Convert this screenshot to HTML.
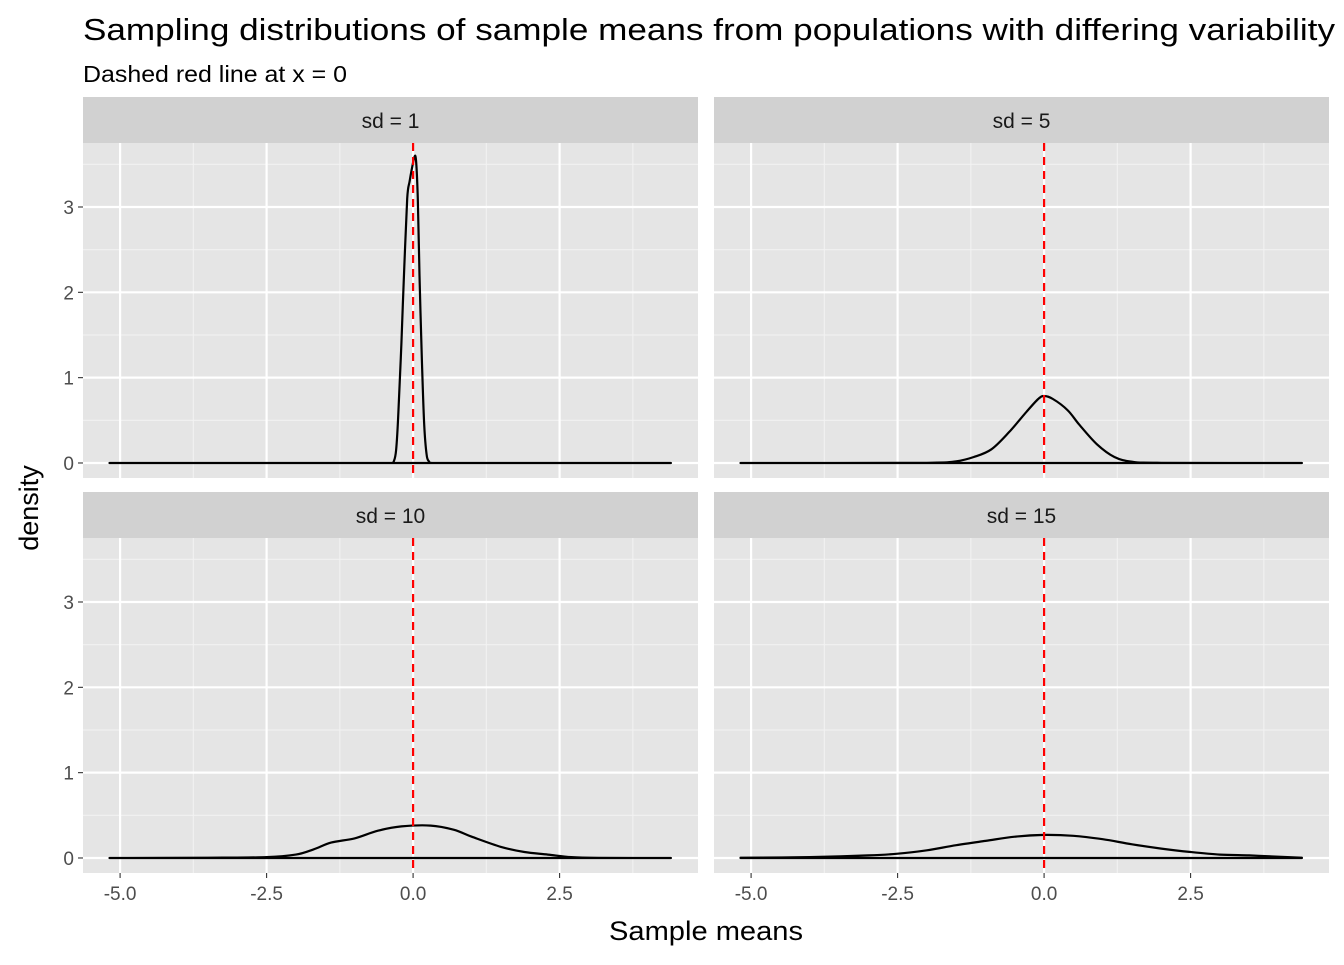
<!DOCTYPE html>
<html><head><meta charset="utf-8"><style>
body{margin:0;background:#fff;font-family:"Liberation Sans",Arial,sans-serif}
svg text{font-family:"Liberation Sans",Arial,sans-serif}
</style></head><body>
<svg id="chart" width="1344" height="960" xmlns="http://www.w3.org/2000/svg">
<rect width="1344" height="960" fill="#fff"/>
<text x="83" y="40" font-size="31" textLength="1252" lengthAdjust="spacingAndGlyphs" fill="#000">Sampling distributions of sample means from populations with differing variability</text>
<text x="83" y="82" font-size="23" textLength="264" lengthAdjust="spacingAndGlyphs" fill="#000">Dashed red line at x = 0</text>
<text x="706" y="940" font-size="27" textLength="194" lengthAdjust="spacingAndGlyphs" text-anchor="middle">Sample means</text>
<text transform="translate(38,508) rotate(-90)" font-size="27" text-anchor="middle">density</text>
<g id="panels"></g>
</svg>
<script>
const panelLabels = ["sd = 1","sd = 5","sd = 10","sd = 15"];
const xTicks = [-5.0,-2.5,0.0,2.5];
const xTickLabels = ["-5.0","-2.5","0.0","2.5"];
const yTicks = [0,1,2,3];
const yTickLabels = ["0","1","2","3"];
const refLineX = 0;
const x1 = [-5.18,-0.38,-0.33,-0.29,-0.25,-0.2,-0.15,-0.1,-0.06,-0.02,0.02,0.05,0.08,0.11,0.15,0.19,0.23,0.27,0.32,4.4];
const d1 = [0,0,0.02,0.15,0.6,1.4,2.3,3.1,3.3,3.45,3.58,3.55,3.1,2.2,1.2,0.45,0.1,0.02,0,0];
const x2 = [-5.18,-2,-1.5,-1.2,-0.9,-0.6,-0.3,-0.1,0,0.15,0.4,0.6,0.9,1.2,1.5,2,4.4];
const d2 = [0,0.002,0.02,0.07,0.16,0.36,0.6,0.75,0.785,0.75,0.62,0.45,0.22,0.07,0.015,0.002,0];
const x3 = [-5.18,-3.5,-2.5,-2,-1.7,-1.4,-1,-0.6,-0.2,0.3,0.7,1,1.5,1.9,2.3,2.7,3.2,4.4];
const d3 = [0,0.003,0.01,0.04,0.1,0.18,0.23,0.32,0.37,0.38,0.33,0.25,0.13,0.07,0.04,0.01,0.002,0];
const x4 = [-5.18,-4,-3,-2.5,-2,-1.5,-1,-0.5,0,0.5,1,1.5,2,2.5,3,3.5,4,4.4];
const d4 = [0.003,0.01,0.03,0.05,0.09,0.15,0.2,0.25,0.27,0.26,0.22,0.16,0.11,0.07,0.04,0.03,0.015,0.003];
const seriesX=[x1,x2,x3,x4], seriesD=[d1,d2,d3,d4];

const NS="http://www.w3.org/2000/svg";
const g=document.getElementById('panels');
function mk(t,a,p){const e=document.createElementNS(NS,t);for(const k in a)e.setAttribute(k,a[k]);(p||g).appendChild(e);return e;}
const pw=615, ph=335, xmin=-5.633, xmax=4.862, ymin=-0.176, ymax=3.75;
const lefts=[83,714], tops=[143,538];
for(let i=0;i<4;i++){
  const L=lefts[i%2], T=tops[Math.floor(i/2)];
  const sx=v=>L+(v-xmin)/(xmax-xmin)*pw;
  const sy=v=>T+ph-(v-ymin)/(ymax-ymin)*ph;
  const pg=mk('g',{});
  
  
  const strip=mk('rect',{x:L,y:T-46,width:pw,height:46,fill:'#d1d1d1'},pg);
  
  
  const st=mk('text',{x:L+pw/2,y:T-15,'font-size':21,'text-anchor':'middle',fill:'#1a1a1a'},pg);
  st.textContent=panelLabels[i];
  
  
  const bg=mk('rect',{x:L,y:T,width:pw,height:ph,fill:'#e5e5e5'},pg);
  
  
  for(let k=0;k<xTicks.length;k++){
    const m=xTicks[k]+1.25;
    if(m>xmin&&m<xmax) mk('line',{x1:sx(m),x2:sx(m),y1:T,y2:T+ph,stroke:'#f2f2f2','stroke-width':1.1},pg);
  }
  for(let k=0;k<yTicks.length;k++){
    const m=yTicks[k]+0.5;
    if(m<ymax) mk('line',{x1:L,x2:L+pw,y1:sy(m),y2:sy(m),stroke:'#f2f2f2','stroke-width':1.1},pg);
  }
  xTicks.forEach((v,k)=>{
    const gl=mk('line',{x1:sx(v),x2:sx(v),y1:T,y2:T+ph,stroke:'#fff','stroke-width':2.2},pg);
    
    
    if(i>=2){
      mk('line',{x1:sx(v),x2:sx(v),y1:T+ph,y2:T+ph+5,stroke:'#333','stroke-width':1.1},pg);
      const t=mk('text',{x:sx(v),y:T+ph+27,'font-size':19,'text-anchor':'middle',fill:'#4d4d4d'},pg);
      t.textContent=xTickLabels[k];
      
      
    }
  });
  yTicks.forEach((v,k)=>{
    const gl=mk('line',{x1:L,x2:L+pw,y1:sy(v),y2:sy(v),stroke:'#fff','stroke-width':2.2},pg);
    
    
    if(i%2===0){
      mk('line',{x1:L-5,x2:L,y1:sy(v),y2:sy(v),stroke:'#333','stroke-width':1.1},pg);
      const t=mk('text',{x:L-9,y:sy(v)+7,'font-size':19,'text-anchor':'end',fill:'#4d4d4d'},pg);
      t.textContent=yTickLabels[k];
      
      
    }
  });
  const xs=seriesX[i], ds=seriesD[i];
  const pts=xs.map((v,j)=>[sx(v),sy(ds[j])]);
  let d='M'+pts[0][0].toFixed(1)+','+sy(0).toFixed(1)+' L'+pts[0][0].toFixed(1)+','+pts[0][1].toFixed(1);
  for(let j=0;j<pts.length-1;j++){
    const p0=pts[Math.max(0,j-1)],p1=pts[j],p2=pts[j+1],p3=pts[Math.min(pts.length-1,j+2)];
    let c1=[p1[0]+(p2[0]-p0[0])/6,p1[1]+(p2[1]-p0[1])/6];
    let c2=[p2[0]-(p3[0]-p1[0])/6,p2[1]-(p3[1]-p1[1])/6];
    c1[0]=Math.max(p1[0],Math.min(p2[0],c1[0])); c2[0]=Math.max(p1[0],Math.min(p2[0],c2[0]));
    const lo=Math.min(p1[1],p2[1])-20, hi=Math.max(p1[1],p2[1]);
    c1[1]=Math.max(lo,Math.min(hi,c1[1])); c2[1]=Math.max(lo,Math.min(hi,c2[1]));
    d+=' C'+c1[0].toFixed(1)+','+c1[1].toFixed(1)+' '+c2[0].toFixed(1)+','+c2[1].toFixed(1)+' '+p2[0].toFixed(1)+','+p2[1].toFixed(1);
  }
  d+=' L'+pts[pts.length-1][0].toFixed(1)+','+sy(0).toFixed(1)+' Z';
  const p=mk('path',{d:d,fill:'none',stroke:'#000','stroke-width':2.2,'stroke-linejoin':'round'},pg);
  
  
  const rl=mk('line',{x1:sx(refLineX),x2:sx(refLineX),y1:T,y2:T+ph,stroke:'#ff0000','stroke-width':2.2,'stroke-dasharray':'8,6'},pg);
  
  
}
</script>
</body></html>
